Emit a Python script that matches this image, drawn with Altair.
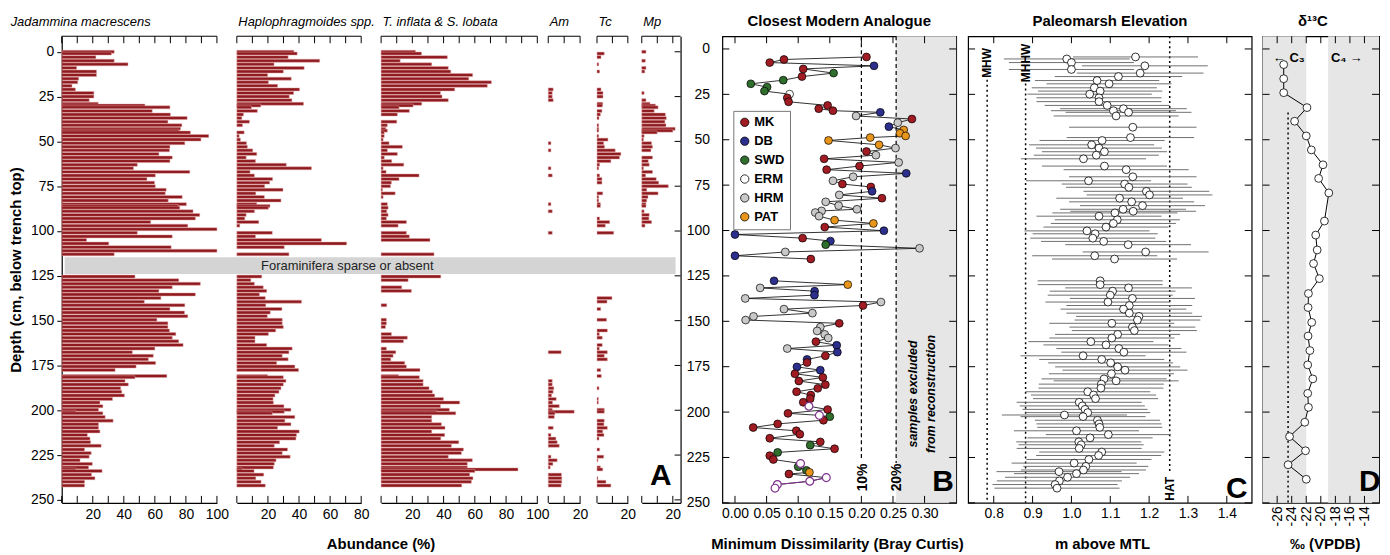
import altair as alt
import pandas as pd

FONT = "Liberation Sans, Arial, sans-serif"
H = 469
Y_DOMAIN = [-7, 250]
DEPTH_TICKS = [0, 25, 50, 75, 100, 125, 150, 175, 200, 225, 250]
TL = 7
BAR = "#8E1A1F"
BAR_EDGE = "#E2A2A2"
PURPLE = "#7E2F8E"
LAB = 14

# ---------------- Panel A : foraminifera abundance (%) ----------------
depth_upper = [0, 1, 3, 5, 7, 9, 11, 13, 15, 17,
               19, 21, 23, 25, 27, 29, 30, 31, 33, 35,
               37, 39, 41, 43, 44, 45, 47, 49, 51, 53,
               55, 57, 59, 61, 63, 65, 67, 69, 71, 73,
               75, 77, 79, 81, 83, 85, 86, 87, 89, 91,
               93, 95, 97, 99, 101, 103, 105, 107, 109, 111,
               113]
depth_lower = [125.4, 127.4, 129.4, 131.4, 133.4, 135.4, 137.4, 139.4, 141.4, 143.5,
               145.5, 147.5, 149.5, 151.5, 153.5, 155.5, 157.5, 159.5, 161.5, 163.6,
               165.6, 167.6, 169.6, 171.6, 173.6, 175.6, 177.6, 180.9, 181.6, 183.6,
               185.6, 187.7, 189.7, 191.7, 193.7, 195.7, 197.7, 199.7, 200.8, 201.7,
               203.7, 205.8, 207.8, 209.8, 211.8, 213.8, 215.8, 217.8, 219.8, 221.9,
               223.9, 225.9, 227.9, 229.9, 231.9, 233.0, 233.9, 235.9, 237.9, 239.9,
               242.0]

jad_upper = [33.8, 32, 22, 33.8, 42.7, 9.6, 22.4, 22.4, 10.9, 10.3,
             6.6, 8.8, 20.7, 20.7, 17.7, 23.5, 53.6, 69.7, 58.3, 70,
             80.8, 68.4, 77.4, 76.5, 75.6, 82.9, 94.7, 89.7, 79.3, 69.7,
             69.4, 62.6, 71.2, 69.7, 48.7, 46.2, 82.5, 60.3, 54.9, 59.8,
             60.3, 67.3, 66.7, 77.6, 68.6, 80.3, 75, 76, 84.6, 88.9,
             86.1, 57.3, 81.2, 100, 48.7, 71.2, 16, 30.3, 70.5, 100,
             33.8]
jad_lower = [47.2, 75.4, 89.3, 71.2, 62.6, 86.1, 63.9, 53.2, 79.3, 69.7,
             79.1, 81.2, 61.3, 68.4, 68.4, 69.4, 73.5, 71.2, 75.4, 78.2,
             60, 45.5, 59, 55.8, 60.5, 47.9, 34.4, 67.7, 47.2, 40.8,
             42.9, 38, 38.7, 40.4, 32.7, 24.6, 26.5, 23.7, 9.2, 26.5,
             28, 33.1, 23.7, 23.7, 24.6, 16.5, 18.2, 18.6, 25.4, 14.7,
             19, 17.7, 11.8, 19.7, 17.3, 9.2, 26, 19.2, 21.4, 14.7,
             14.7]

hap_upper = [36.7, 38.8, 33, 53.3, 23.9, 43.3, 29.9, 19.8, 35, 20.3,
             26.2, 40.3, 36.5, 33.7, 35.4, 42.9, 15.4, 9.4, 13.2, 4.3,
             3.2, 8.1, 3.6, 0, 0, 4.7, 1.5, 2.3, 6.2, 6.8,
             10.2, 12.8, 6, 12, 31.8, 48, 8.5, 11.3, 23, 21.1,
             17.9, 29.7, 12.2, 17.7, 28.4, 12.8, 21.3, 20.3, 11.3, 6,
             5.1, 14.1, 1.9, 0, 22.8, 12, 54.4, 70.6, 30.5, 0,
             33.5]
hap_lower = [16, 9, 11.3, 17, 19.2, 14.5, 18.3, 41.6, 18.6, 29,
             21.5, 19.6, 29.2, 29.2, 29.9, 25, 20.3, 11.7, 11.7, 19.2,
             35.6, 33.5, 29.2, 33, 25.6, 37.3, 39.7, 19.8, 29.9, 31.6,
             29.9, 28.4, 27.1, 24.5, 23.3, 23.5, 30.3, 34.8, 30.5, 22.8,
             37.3, 30.9, 34.8, 26.2, 40.1, 38.4, 38, 27.5, 24.1, 32.6,
             29.2, 34.3, 25.2, 24.1, 23.5, 3.6, 11.1, 17.3, 12.2, 15.6,
             18.3]

tinf_upper = [22, 25.9, 42.4, 12.2, 32.4, 43, 44.6, 58.6, 56.1, 70.6,
              68, 47.1, 38, 39, 43, 26, 20.5, 11.5, 18.1, 10.4,
              0, 10, 4, 3, 4, 2, 2, 1.3, 5.1, 13.6,
              4, 10.4, 2, 6.8, 14.5, 1.3, 3.2, 24.3, 11.5, 6.6,
              6, 0.9, 9, 1.3, 0, 4, 0, 4.5, 3.6, 4.5,
              3.4, 16.2, 10.9, 0, 16.2, 18.1, 31.3, 0, 0, 0,
              33.9]
tinf_lower = [38.2, 17.3, 0, 13.2, 19.4, 0, 0, 0, 3.6, 0,
              0, 0, 3.4, 3.4, 2.8, 0, 6.6, 16.8, 14.3, 0,
              3.4, 9.4, 7.7, 6.2, 15.1, 16.2, 24.9, 11.1, 24.5, 26.9,
              26.9, 30.7, 32.8, 34.3, 39.9, 50.3, 38, 43.7, 35.6, 47.8,
              32.4, 32.4, 38.6, 40.9, 32.4, 40.7, 38.2, 49.7, 45, 52.7,
              51.4, 43, 58.4, 55.2, 55.2, 87.6, 60, 56.7, 58.8, 57.8,
              51.6]

am_upper = [0, 0, 0, 0, 0, 0, 0, 0, 0, 0,
            0, 3.1, 2.5, 2.5, 3.1, 0, 0, 0, 0, 0,
            0, 0, 0, 0, 0, 0, 0, 0, 1.7, 0,
            1.7, 0, 0, 0, 0, 1.7, 0, 2.5, 0, 0,
            0, 0, 0, 0, 0, 1.7, 0, 0, 2.5, 0,
            0, 0, 0, 0, 2.5, 0, 0, 0, 0, 0,
            0]
am_lower = [0, 0, 0, 0, 0, 0, 0, 0, 0, 0,
            0, 0, 0, 0, 0, 0, 0, 0, 0, 0,
            0, 8.1, 0, 0, 0, 0, 0, 0, 0, 2.5,
            2.5, 3.5, 3.1, 2.1, 5, 2.7, 6.9, 2.5, 16.3, 4.2,
            3.8, 0, 0, 3.1, 0, 1.7, 4.8, 5.6, 6.9, 0,
            0, 1.7, 5.6, 2.9, 1.2, 0, 0, 8.3, 8.5, 8.5,
            8.1]

tc_upper = [0, 4.7, 2.6, 0, 1.1, 0, 1.7, 0, 0, 0,
            0, 2.6, 3.9, 3.9, 0, 3.7, 3.5, 0, 3.2, 2.2,
            1.3, 0, 1.1, 1.1, 1.1, 0, 1.1, 7.1, 4.3, 4.9,
            11.8, 15.5, 14.6, 9, 1.7, 1.1, 0, 1.7, 3.2, 3.2,
            0, 0, 3.7, 1.1, 1.1, 2.2, 2.2, 0, 0, 0,
            1.7, 8.2, 5.4, 0, 10.8, 0, 0, 0, 0, 0,
            0]
tc_lower = [0, 0, 0, 0, 0, 0, 9.7, 6.5, 0, 2.4,
            0, 0, 6.2, 0, 0, 6.7, 1.5, 3.4, 0, 3.4,
            1.5, 6.7, 4.7, 6.7, 0, 0, 2.4, 2.8, 0, 0,
            0, 1.3, 0, 0, 0.9, 0.9, 0, 4.7, 4.7, 0,
            0, 4.7, 4.5, 6.7, 3.7, 4.5, 1.3, 0, 0, 1.7,
            0, 4.3, 0.6, 0, 2.2, 3.7, 0, 0, 0.6, 5.8,
            9]

mp_upper = [2.7, 0, 0, 2.3, 0, 2.7, 1.9, 0, 0, 0,
            0, 0, 1.5, 0, 2.7, 5.3, 8.8, 10.5, 8, 15.2,
            15.8, 14.9, 15.6, 21.5, 20, 9.9, 1.5, 1.1, 6.3, 6.9,
            5.9, 0, 6.9, 4.2, 4.8, 1.1, 6.9, 2.5, 9.3, 10.9,
            17.1, 3.2, 10.5, 4, 3.2, 2.7, 2.7, 0, 1.5, 4.8,
            4.6, 6.3, 2.1, 0, 0, 0, 0, 0, 0, 0,
            0]

# ---------------- Panel B : closest modern analogue ----------------
b_depth = [4.4, 5.8, 7.5, 9.3, 11.0, 13.3, 15.2, 17.2, 19.2, 21.0,
           23.2, 24.9, 26.9, 29.1, 31.1, 32.9, 34.0, 34.9, 36.9, 38.6,
           40.6, 42.8, 44.6, 46.4, 47.9, 48.8, 50.4, 52.8, 54.6, 56.5,
           58.5, 60.5, 62.5, 64.5, 66.5, 68.5, 70.4, 72.6, 74.4, 76.0,
           78.4, 80.4, 82.2, 84.2, 86.3, 88.3, 89.2, 90.1, 92.1, 94.3,
           96.1, 98.1, 100.1, 102.2, 104.2, 105.8, 107.8, 109.8, 111.8, 113.9,
           115.7,
           127.7, 129.8, 131.6, 133.4, 135.6, 137.4, 139.4, 141.3, 143.3, 145.5,
           147.3, 149.3, 151.1, 153.2, 155.3, 157.2, 159.2, 161.2, 163.2, 165.0,
           167.0, 169.0, 171.0, 172.7, 175.1, 176.9, 178.9, 180.9, 182.9, 184.9,
           186.9, 188.8, 190.6, 192.6, 194.6, 196.8, 198.6, 200.7, 201.8, 202.5,
           204.5, 206.5, 208.5, 210.3, 212.2, 214.4, 216.4, 218.2, 220.2, 222.2,
           224.0, 226.1, 228.3, 230.1, 232.1, 233.2, 234.1, 236.1, 238.1, 239.9,
           241.9]
b_mcd = [0.208, 0.0775, 0.055, 0.22, 0.108, 0.156, 0.106, 0.0764, 0.025, 0.0508,
         0.0466, 0.0864, 0.0827, 0.0848, 0.1466, 0.1325, 0.155, 0.23, 0.1916, 0.28,
         0.2576, 0.2435, 0.267, 0.261, 0.27, 0.214, 0.148, 0.228, 0.254, 0.208,
         0.223, 0.141, 0.259, 0.197, 0.145, 0.271, 0.187, 0.155, 0.17, 0.215,
         0.217, 0.165, 0.2325, 0.1435, 0.164, 0.193, 0.137, 0.127, 0.133, 0.1576,
         0.219, 0.142, 0.2356, 0.0, 0.107, 0.151, 0.1435, 0.292, 0.0796, 0.0,
         0.12,
         0.0618, 0.1785, 0.0398, 0.126, 0.1257, 0.0162, 0.231, 0.2026, 0.0775, 0.1225,
         0.0293, 0.0168, 0.165, 0.135, 0.13, 0.142, 0.1476, 0.128, 0.161, 0.0827,
         0.162, 0.143, 0.114, 0.114, 0.098, 0.135, 0.0948, 0.139, 0.101, 0.143,
         0.131, 0.0974, 0.12, 0.119, 0.108, 0.117, 0.1466, 0.0838, 0.1335, 0.15,
         0.14, 0.0675, 0.0288, 0.097, 0.1026, 0.055, 0.135, 0.119, 0.1576, 0.0675,
         0.055, 0.0607, 0.1037, 0.1, 0.113, 0.1178, 0.0853, 0.1445, 0.1183, 0.067,
         0.0634]
b_site = ["MK", "MK", "MK", "DB", "MK", "SWD", "MK", "SWD", "SWD", "SWD",
          "SWD", "ERM", "MK", "MK", "MK", "MK", "MK", "DB", "HRM", "MK",
          "HRM", "DB", "PAT", "PAT", "PAT", "PAT", "PAT", "PAT", "HRM", "MK",
          "HRM", "MK", "HRM", "MK", "MK", "DB", "HRM", "HRM", "MK", "MK",
          "DB", "HRM", "MK", "HRM", "HRM", "HRM", "HRM", "HRM", "HRM", "PAT",
          "PAT", "MK", "DB", "DB", "MK", "DB", "SWD", "HRM", "HRM", "DB",
          "MK",
          "DB", "PAT", "HRM", "DB", "DB", "HRM", "HRM", "MK", "HRM", "HRM",
          "HRM", "HRM", "MK", "HRM", "HRM", "HRM", "HRM", "MK", "DB", "HRM",
          "DB", "MK", "DB", "MK", "DB", "DB", "MK", "MK", "MK", "MK",
          "MK", "MK", "MK", "MK", "MK", "open", "MK", "MK", "open", "SWD",
          "MK", "MK", "MK", "MK", "MK", "MK", "MK", "SWD", "MK", "SWD",
          "MK", "MK", "open", "SWD", "SWD", "PAT", "MK", "open", "open", "open",
          "open"]
SITES = ["MK", "DB", "SWD", "ERM", "HRM", "PAT"]
SITE_COLORS = ["#A01B22", "#2C2F8C", "#2F6E2C", "#FFFFFF", "#C9C9C9", "#E8951C"]
b_thresholds = [0.20, 0.255]
b_threshold_labels = ["10%", "20%"]

# ---------------- Panel C : paleomarsh elevation ----------------
c_depth = [4.4, 5.5, 7.5, 9.3, 11.3, 13.3, 15.2, 17.4, 19.2, 21.4,
           23.2, 24.9, 26.9, 29.0, 31.1, 32.9, 34.0, 34.9, 36.9, 43.1,
           48.8, 50.4, 52.8, 54.6, 56.6, 58.5, 60.5, 64.5, 66.5, 70.4,
           72.6, 74.4, 76.2, 78.4, 80.4, 82.2, 84.2, 86.3, 88.3, 89.4,
           90.3, 92.1, 94.1, 96.1, 98.1, 100.2, 101.8, 104.2, 106.0, 107.8,
           111.8, 113.9, 115.7,
           127.7, 129.8, 131.6, 133.4, 135.6, 137.4, 139.4, 141.3, 143.3, 145.5,
           147.3, 149.3, 151.1, 153.2, 155.1, 157.2, 159.2, 161.2, 163.0, 165.0,
           167.0, 169.0, 171.0, 172.9, 175.1, 176.9, 178.9, 181.7, 182.8, 184.6,
           186.8, 188.8, 190.6, 192.6, 194.6, 196.6, 198.5, 200.3, 201.6, 202.5,
           204.5, 206.5, 208.4, 210.3, 212.4, 214.2, 216.4, 218.0, 220.0, 222.0,
           223.9, 226.1, 228.1, 229.9, 231.9, 232.8, 233.9, 235.9, 237.9, 239.9,
           241.9]
c_elev = [1.165, 0.988, 1.0, 1.189, 1.0, 1.177, 1.121, 1.066, 1.097, 1.059,
          1.074, 1.047, 1.071, 1.071, 1.092, 1.134, 1.108, 1.147, 1.115, 1.158,
          1.152, 1.079, 1.052, 1.071, 1.085, 1.064, 1.031, 1.085, 1.141, 1.158,
          1.044, 1.137, 1.148, 1.193, 1.201, 1.124, 1.155, 1.183, 1.133, 1.159,
          1.112, 1.071, 1.118, 1.108, 1.089, 1.04, 1.061, 1.055, 1.083, 1.146,
          1.191, 1.06, 1.111,
          1.074, 1.074, 1.147, 1.106, 1.100, 1.157, 1.094, 1.149, 1.134, 1.149,
          1.174, 1.170, 1.104, 1.157, 1.162, 1.119, 1.104, 1.050, 1.089, 1.122,
          1.135, 1.030, 1.078, 1.101, 1.119, 1.138, 1.103, 1.084, 1.115, 1.077,
          1.076, 1.042, 1.057, 1.062, 1.020, 1.028, 1.035, 1.042, 0.982, 1.030,
          1.067, 1.071, 1.073, 1.013, 1.095, 1.048, 1.019, 1.025, 1.020, 1.078,
          1.070, 1.045, 1.007, 1.037, 1.031, 0.968, 1.013, 0.990, 0.969, 0.958,
          0.963]
c_err = [0.161, 0.162, 0.161, 0.162, 0.161, 0.163, 0.164, 0.160, 0.161, 0.161,
         0.160, 0.160, 0.161, 0.161, 0.161, 0.163, 0.161, 0.162, 0.161, 0.164,
         0.164, 0.161, 0.161, 0.162, 0.161, 0.161, 0.161, 0.161, 0.161, 0.164,
         0.161, 0.162, 0.162, 0.162, 0.162, 0.163, 0.161, 0.161, 0.162, 0.162,
         0.161, 0.161, 0.161, 0.161, 0.161, 0.161, 0.161, 0.161, 0.161, 0.162,
         0.162, 0.161, 0.161,
         0.161, 0.161, 0.163, 0.162, 0.161, 0.161, 0.161, 0.162, 0.162, 0.162,
         0.162, 0.162, 0.161, 0.162, 0.161, 0.161, 0.161, 0.161, 0.161, 0.161,
         0.161, 0.161, 0.161, 0.161, 0.161, 0.161, 0.161, 0.161, 0.161, 0.161,
         0.161, 0.161, 0.161, 0.161, 0.161, 0.161, 0.161, 0.161, 0.161, 0.161,
         0.161, 0.161, 0.161, 0.161, 0.161, 0.161, 0.161, 0.161, 0.161, 0.161,
         0.161, 0.161, 0.161, 0.161, 0.161, 0.161, 0.161, 0.161, 0.161, 0.161,
         0.161]
tide_names = ["MHW", "MHHW", "HAT"]
tide_levels = [0.783, 0.882, 1.253]

# ---------------- Panel D : delta 13C ----------------
d_depth = [8.6, 16.4, 24.1, 32.3, 39.8, 47.9, 55.6, 63.8, 71.3, 79.3,
           94.8, 102.5, 110.7, 118.2, 126.5, 134.7, 142.4, 150.6, 158.1, 166.1,
           174.0, 181.7, 189.7, 197.4, 205.6, 213.5, 221.3, 229.0, 237.0]
d_val = [-25.1, -25.1, -25.1, -21.9, -23.6, -22.0, -21.3, -19.7, -20.3, -18.9,
         -19.5, -20.7, -20.5, -21.0, -20.2, -21.7, -21.75, -21.25, -21.75, -21.5,
         -21.8, -21.1, -21.8, -21.7, -22.2, -24.3, -22.1, -24.5, -22.0]

# ======================================================================
ys = alt.Scale(domain=Y_DOMAIN, reverse=True, nice=False, zero=False)


def xsc(dom):
    return alt.Scale(domain=dom, nice=False, zero=False)


def xticks(values, xs, xa, L=TL):
    df = pd.DataFrame({"v": values})
    top = alt.Chart(df).mark_rule(color="black", strokeWidth=1).encode(
        x=alt.X("v:Q", scale=xs, axis=xa), y=alt.value(0), y2=alt.value(L))
    bot = alt.Chart(df).mark_rule(color="black", strokeWidth=1).encode(
        x=alt.X("v:Q", scale=xs, axis=xa), y=alt.value(H - L), y2=alt.value(H))
    return [top, bot]


def yticks(W, ya, sides=("left", "right"), L=TL):
    df = pd.DataFrame({"v": DEPTH_TICKS})
    out = []
    for s in sides:
        a, b = (0, L) if s == "left" else (W - L, W)
        out.append(alt.Chart(df).mark_rule(color="black", strokeWidth=1).encode(
            y=alt.Y("v:Q", scale=ys, axis=ya), x=alt.value(a), x2=alt.value(b)))
    return out


def label(xs, xa, ya, x, y, txt, color="black", **kw):
    df = pd.DataFrame({"x": [x], "y": [y], "t": [txt]})
    return alt.Chart(df).mark_text(font=FONT, color=color, **kw).encode(
        x=alt.X("x:Q", scale=xs, axis=xa),
        y=alt.Y("y:Q", scale=ys, axis=ya), text="t:N")


def xtitle(xs, xa, x, txt):
    df = pd.DataFrame({"x": [x], "t": [txt]})
    return alt.Chart(df).mark_text(font=FONT, fontSize=15, fontWeight="bold",
                                   color="black", baseline="middle").encode(
        x=alt.X("x:Q", scale=xs, axis=xa), y=alt.value(H + 41), text="t:N")


def foram_axis(lab_vals):
    return alt.Axis(values=lab_vals, title=None, ticks=False, domain=True,
                    labelFlush=False, labelPadding=5, labelOverlap=False)


def foram_layers(depth, vals, dom, xa, tick_vals, ya=None):
    xs = xsc(dom)
    df = pd.DataFrame({"depth": depth, "val": vals})
    df = df[df["val"] > 0]
    bars = alt.Chart(df).mark_bar(orient="horizontal", size=3, fill=BAR,
                                  stroke=BAR_EDGE, strokeWidth=0.5).encode(
        x=alt.X("val:Q", scale=xs, axis=xa),
        y=alt.Y("depth:Q", scale=ys, axis=ya))
    topline = alt.Chart(pd.DataFrame({"a": [dom[0]], "b": [dom[1]]})).mark_rule(
        color="black", strokeWidth=1).encode(
        x=alt.X("a:Q", scale=xs, axis=xa), x2="b:Q", y=alt.value(0))
    return xs, [bars, topline] + xticks(tick_vals, xs, xa)


def atitle(txt):
    return alt.TitleParams(txt, anchor="start", fontStyle="italic", fontWeight="normal",
                           fontSize=13, font=FONT, offset=7, dx=2)


def ptitle(txt, dx=0):
    return alt.TitleParams(txt, fontWeight="bold", fontSize=15, font=FONT, offset=7, dx=dx)


def spacer(w):
    return alt.Chart(pd.DataFrame({"s": [0]})).mark_point(opacity=0).properties(width=w, height=H)


dep_all = depth_upper + depth_lower
T10 = [0, 10, 20, 30, 40, 50, 60, 70, 80, 90, 100]

# Jadammina
xaJ = foram_axis([20, 40, 60, 80, 100])
yaJ = alt.Axis(values=DEPTH_TICKS, title="Depth (cm, below trench top)",
               tickSize=5, labelPadding=3, titlePadding=7, domain=True)
xsJ, LJ = foram_layers(dep_all, jad_upper + jad_lower, [0, 100], xaJ, T10, ya=yaJ)
band = alt.Chart(pd.DataFrame({"a": [1.9], "b": [395.5], "y0": [114.6], "y1": [124.0]})).mark_rect(
    color="#D4D4D4").encode(x=alt.X("a:Q", scale=xsJ, axis=xaJ), x2="b:Q",
                           y=alt.Y("y0:Q", scale=ys, axis=yaJ), y2="y1:Q")
band_txt = label(xsJ, xaJ, yaJ, 184, 119.3, "Foraminifera sparse or absent",
                 color="#222222", fontSize=13)
jad = alt.layer(band, *LJ, band_txt).properties(width=156, height=H, title=atitle("Jadammina macrescens"))

xaH = foram_axis([20, 40, 60, 80])
xsH, LH = foram_layers(dep_all, hap_upper + hap_lower, [0, 80], xaH,
                       [0, 10, 20, 30, 40, 50, 60, 70, 80])
hap = alt.layer(*LH, xtitle(xsH, xaH, 92.8, "Abundance (%)")).properties(
    width=125, height=H, title=atitle("Haplophragmoides spp."))

xaT = foram_axis([20, 40, 60, 80, 100])
xsT, LT = foram_layers(dep_all, tinf_upper + tinf_lower, [0, 100], xaT, T10)
tinf = alt.layer(*LT).properties(width=157, height=H, title=atitle("T. inflata & S. lobata"))

xaA = foram_axis([20])
xsA, LA = foram_layers(dep_all, am_upper + am_lower, [0, 20], xaA, [0, 10, 20])
am = alt.layer(*LA).properties(width=32, height=H, title=atitle("Am"))

xaTc = foram_axis([20])
xsTc, LTc = foram_layers(dep_all, tc_upper + tc_lower, [0, 20], xaTc, [0, 10, 20])
tc = alt.layer(*LTc).properties(width=31, height=H, title=atitle("Tc"))

xaM = foram_axis([20])
yaM = alt.Axis(orient="right", labels=False, ticks=False, title=None, domain=True)
xsM, LM = foram_layers(depth_upper, mp_upper, [0, 25], xaM, [0, 10, 20], ya=yaM)
mp = alt.layer(*LM, *yticks(39, yaM, sides=("right",), L=6),
               label(xsM, xaM, yaM, 12.2, 236.5, "A", fontSize=30, fontWeight="bold")).properties(
    width=39, height=H, title=atitle("Mp"))

# ---------------- Panel B ----------------
WB = 235
xsB = xsc([-0.02, 0.35])
xaB = alt.Axis(values=[0, 0.05, 0.1, 0.15, 0.2, 0.25, 0.3], format=".2f", title=None,
               ticks=False, domain=False, labelPadding=4, labelFlush=False, labelOverlap=False)
yaB = alt.Axis(values=DEPTH_TICKS, title=None, ticks=False, domain=False, labelPadding=13)
b_df = pd.DataFrame({"depth": b_depth, "mcd": b_mcd, "site": b_site})
b_df["seg"] = ["upper" if d < 120 else "lower" for d in b_df["depth"]]
grayB = alt.Chart(pd.DataFrame({"a": [0.255], "b": [0.35]})).mark_rect(color="#E6E6E6").encode(
    x=alt.X("a:Q", scale=xsB, axis=xaB), x2="b:Q", y=alt.value(0), y2=alt.value(H))
dashB = alt.Chart(pd.DataFrame({"x": b_thresholds, "y0": [-7, -7], "y1": [226, 228]})).mark_rule(
    color="black", strokeWidth=1.2, strokeDash=[4, 3]).encode(
    x=alt.X("x:Q", scale=xsB, axis=xaB), y=alt.Y("y0:Q", scale=ys, axis=yaB), y2="y1:Q")
lineB = alt.Chart(b_df).mark_line(color="black", strokeWidth=0.8).encode(
    x=alt.X("mcd:Q", scale=xsB, axis=xaB), y=alt.Y("depth:Q", scale=ys, axis=yaB),
    order="depth:Q", detail="seg:N")
lineP = alt.Chart(b_df[b_df["depth"] >= 236]).mark_line(color=PURPLE, strokeWidth=1).encode(
    x=alt.X("mcd:Q", scale=xsB, axis=xaB), y=alt.Y("depth:Q", scale=ys, axis=yaB),
    order="depth:Q")
ptsB = alt.Chart(b_df[b_df["site"] != "open"]).mark_circle(
    size=62, stroke="black", strokeWidth=0.7, opacity=1).encode(
    x=alt.X("mcd:Q", scale=xsB, axis=xaB),
    y=alt.Y("depth:Q", scale=ys, axis=yaB),
    fill=alt.Fill("site:N", scale=alt.Scale(domain=SITES, range=SITE_COLORS),
                  legend=alt.Legend(orient="none", legendX=675, legendY=75, title=None,
                                    strokeColor="#777777", fillColor="white", padding=5,
                                    labelFont=FONT, labelFontSize=13, labelFontWeight="bold",
                                    labelColor="black", symbolSize=70, symbolType="circle",
                                    symbolStrokeColor="black", symbolStrokeWidth=0.8,
                                    symbolOpacity=1, rowPadding=5, labelOffset=3)))
openB = alt.Chart(b_df[b_df["site"] == "open"]).mark_circle(
    size=62, fill="white", stroke=PURPLE, strokeWidth=1.2, opacity=1).encode(
    x=alt.X("mcd:Q", scale=xsB, axis=xaB), y=alt.Y("depth:Q", scale=ys, axis=yaB))
txtB = [
    label(xsB, xaB, yaB, 0.203, 236, b_threshold_labels[0], fontSize=14, fontWeight="bold", angle=270),
    label(xsB, xaB, yaB, 0.256, 236, b_threshold_labels[1], fontSize=14, fontWeight="bold", angle=270),
    label(xsB, xaB, yaB, 0.2819, 190, "samples excluded", fontSize=12.5, fontWeight="bold",
          fontStyle="italic", angle=270),
    label(xsB, xaB, yaB, 0.310, 190, "from reconstruction", fontSize=12.5, fontWeight="bold",
          fontStyle="italic", angle=270),
    label(xsB, xaB, yaB, 0.329, 238.5, "B", fontSize=30, fontWeight="bold"),
]
pB = alt.layer(grayB, dashB, lineB, lineP, ptsB, openB, *txtB,
               *xticks([0, 0.05, 0.1, 0.15, 0.2, 0.25, 0.3], xsB, xaB), *yticks(WB, yaB),
               xtitle(xsB, xaB, 0.1622, "Minimum Dissimilarity (Bray Curtis)")).properties(
    width=WB, height=H, title=ptitle("Closest Modern Analogue"),
    view=alt.ViewBackground(stroke="black", strokeWidth=1.2))

# ---------------- Panel C ----------------
WC = 285
xsC = xsc([0.734, 1.464])
xaC = alt.Axis(values=[0.8, 0.9, 1.0, 1.1, 1.2, 1.3, 1.4], format=".1f", title=None,
               ticks=False, domain=False, labelPadding=4, labelFlush=False, labelOverlap=False)
yaC = None
c_df = pd.DataFrame({"depth": c_depth, "elev": c_elev, "err": c_err})
c_df["lo"] = c_df["elev"] - c_df["err"]
c_df["hi"] = c_df["elev"] + c_df["err"]
tideC = alt.Chart(pd.DataFrame({"x": tide_levels, "y0": [17, 19, -7], "y1": [250, 250, 233]})).mark_rule(
    color="black", strokeWidth=1.5, strokeDash=[2, 3]).encode(
    x=alt.X("x:Q", scale=xsC, axis=xaC), y=alt.Y("y0:Q", scale=ys, axis=yaC), y2="y1:Q")
errC = alt.Chart(c_df).mark_rule(color="#606060", strokeWidth=0.9).encode(
    x=alt.X("lo:Q", scale=xsC, axis=xaC), x2="hi:Q", y=alt.Y("depth:Q", scale=ys, axis=yaC))
ptsC = alt.Chart(c_df).mark_circle(size=62, fill="white", stroke="black", strokeWidth=0.8,
                                   opacity=1).encode(
    x=alt.X("elev:Q", scale=xsC, axis=xaC), y=alt.Y("depth:Q", scale=ys, axis=yaC))
txtC = [
    label(xsC, xaC, yaC, tide_levels[0], 7.7, tide_names[0], fontSize=12, fontWeight="bold", angle=270),
    label(xsC, xaC, yaC, tide_levels[1], 7.7, tide_names[1], fontSize=12, fontWeight="bold", angle=270),
    label(xsC, xaC, yaC, tide_levels[2], 242.3, tide_names[2], fontSize=12, fontWeight="bold", angle=270),
    label(xsC, xaC, yaC, 1.4256, 242.5, "C", fontSize=30, fontWeight="bold"),
]
pC = alt.layer(tideC, errC, ptsC, *txtC,
               *xticks([0.8, 0.9, 1.0, 1.1, 1.2, 1.3, 1.4], xsC, xaC), *yticks(WC, yaC),
               xtitle(xsC, xaC, 1.08, "m above MTL")).properties(
    width=WC, height=H, title=ptitle("Paleomarsh Elevation"),
    view=alt.ViewBackground(stroke="black", strokeWidth=1.2))

# ---------------- Panel D ----------------
WD = 117
xsD = xsc([-28, -12])
xaD = alt.Axis(values=[-26, -24, -22, -20, -18, -16, -14], title=None, ticks=False,
               domain=False, labelPadding=3, labelFlush=False, labelOverlap=False,
               labelAngle=270, labelExpr="datum.value + ''")
yaD = None
d_df = pd.DataFrame({"depth": d_depth, "d13c": d_val})
shadeD = alt.Chart(pd.DataFrame({"a": [-28, -19], "b": [-22, -12]})).mark_rect(color="#E6E6E6").encode(
    x=alt.X("a:Q", scale=xsD, axis=xaD), x2="b:Q", y=alt.value(0), y2=alt.value(H))
dotD = alt.Chart(pd.DataFrame({"x": [-24.5], "y0": [35], "y1": [250]})).mark_rule(
    color="black", strokeWidth=1.5, strokeDash=[2, 3]).encode(
    x=alt.X("x:Q", scale=xsD, axis=xaD), y=alt.Y("y0:Q", scale=ys, axis=yaD), y2="y1:Q")
lineD = alt.Chart(d_df).mark_line(color="black", strokeWidth=1).encode(
    x=alt.X("d13c:Q", scale=xsD, axis=xaD), y=alt.Y("depth:Q", scale=ys, axis=yaD),
    order="depth:Q")
ptsD = alt.Chart(d_df).mark_circle(size=62, fill="white", stroke="black", strokeWidth=0.8,
                                   opacity=1).encode(
    x=alt.X("d13c:Q", scale=xsD, axis=xaD), y=alt.Y("depth:Q", scale=ys, axis=yaD))
txtD = [
    label(xsD, xaD, yaD, -24.4, 4.9, "\u2190 C\u2083", fontSize=13, fontWeight="bold"),
    label(xsD, xaD, yaD, -16.4, 4.9, "C\u2084 \u2192", fontSize=13, fontWeight="bold"),
    label(xsD, xaD, yaD, -13.26, 238.5, "D", fontSize=30, fontWeight="bold"),
]
pD = alt.layer(shadeD, dotD, lineD, ptsD, *txtD,
               *xticks([-26, -24, -22, -20, -18, -16, -14], xsD, xaD), *yticks(WD, yaD),
               xtitle(xsD, xaD, -19.4, "\u2030 (VPDB)")).properties(
    width=WD, height=H, title=ptitle("\u03b4\u00b9\u00b3C", dx=-8),
    view=alt.ViewBackground(stroke="black", strokeWidth=1.2))

chart = alt.hconcat(
    jad, spacer(20), hap, spacer(20), tinf, spacer(11), am, spacer(17), tc, spacer(14), mp,
    spacer(42), pB, spacer(12), pC, spacer(11), pD,
    spacing=0, bounds="flush"
).properties(
    padding={"left": 0, "top": 3, "right": 0, "bottom": 0}
).configure_view(stroke=None).configure_axis(
    labelFont=FONT, titleFont=FONT, labelFontSize=LAB, titleFontSize=15, titleFontWeight="bold",
    labelColor="black", titleColor="black", domainColor="black", tickColor="black", grid=False,
    domainWidth=1.2
).configure_title(font=FONT, fontSize=15, color="black").configure_bar(continuousBandSize=3)

chart.save("out.html", embed_options={"renderer": "svg", "actions": False})
